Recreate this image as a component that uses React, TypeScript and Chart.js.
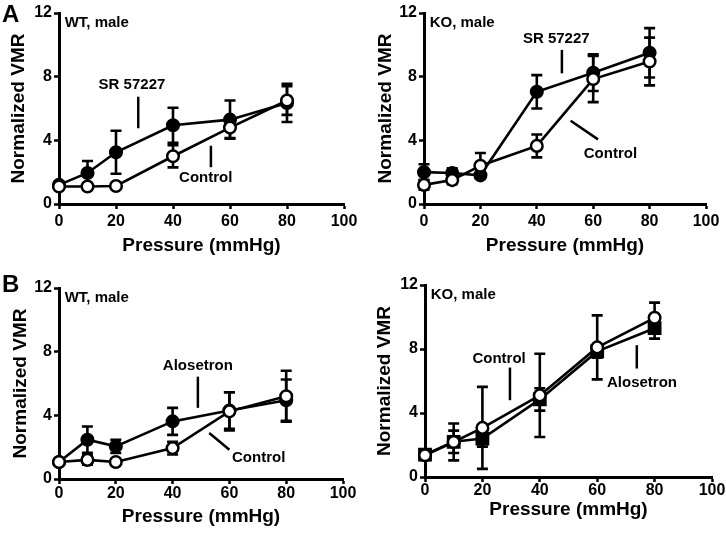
import React, { useEffect, useRef } from "react";
import { Chart, registerables } from "chart.js";
Chart.register(...registerables);

// ---------------- data ----------------
const pressure = [0, 10, 20, 40, 60, 80];

// Panel A, WT male
const wtSrMean = [1.2, 1.95, 3.25, 4.95, 5.3, 6.35];
const wtSrSem = [0.2, 0.75, 1.35, 1.1, 1.2, 1.2];
const wtSrCtlMean = [1.1, 1.1, 1.13, 3.0, 4.8, 6.5];
const wtSrCtlSem = [0.15, 0.15, 0.15, 0.7, 0.65, 0.9];
// Panel A, KO male
const koSrMean = [2.0, 1.95, 1.8, 7.05, 8.25, 9.5];
const koSrSem = [0.5, 0.3, 0.2, 1.05, 1.15, 1.55];
const koSrCtlMean = [1.2, 1.5, 2.4, 3.65, 7.85, 8.95];
const koSrCtlSem = [0.3, 0.25, 0.8, 0.72, 1.45, 1.5];
// Panel B, WT male
const wtAloMean = [1.07, 2.47, 2.05, 3.62, 4.3, 4.95];
const wtAloSem = [0.1, 0.83, 0.42, 0.85, 1.15, 1.3];
const wtAloCtlMean = [1.07, 1.2, 1.07, 1.94, 4.25, 5.2];
const wtAloCtlSem = [0.1, 0.3, 0.1, 0.4, 1.2, 1.6];
// Panel B, KO male
const koAloMean = [1.4, 2.2, 2.4, 4.85, 7.85, 9.3];
const koAloSem = [0.3, 0.7, 0.5, 0.7, 0.4, 0.65];
const koAloCtlMean = [1.36, 2.19, 3.07, 5.1, 8.1, 9.95];
const koAloCtlSem = [0.3, 1.15, 2.56, 2.6, 2.0, 0.95];

const xMin = 0;
const xMax = 100;
const xStep = 20;
const yMin = 0;
const yMax = 12;
const yStep = 4;

const xTitle = "Pressure (mmHg)";
const yTitle = "Normalized VMR";

// ---------------- styling / layout ----------------
const FONT = '"Liberation Sans", Arial, Helvetica, sans-serif';

type Series = { label: string; mean: number[]; sem: number[]; filled: boolean; shape?: string; radius?: number };
type Note = { text: string; x: number; y: number };
type Pointer = { x1: number; y1: number; x2: number; y2: number };
type PanelCfg = {
  key: string;
  left: number; top: number; width: number; height: number;
  padTop: number; padRight: number;
  yWidth: number; xHeight: number;
  yTitlePad: number; xTitlePad: number; xTickPad: number;
  tag: string;
  letter?: string; letterY?: number;
  series: Series[];
  notes: Note[];
  pointers: Pointer[];
};

const panels: PanelCfg[] = [
  {
    key: "A-WT", left: 0, top: 0, width: 363, height: 262,
    padTop: 13, padRight: 19, yWidth: 59, xHeight: 58, yTitlePad: 7, xTitlePad: 4.6, xTickPad: 3,
    tag: "WT, male", letter: "A", letterY: 22,
    series: [
      { label: "Control", mean: wtSrCtlMean, sem: wtSrCtlSem, filled: false },
      { label: "SR 57227", mean: wtSrMean, sem: wtSrSem, filled: true },
    ],
    notes: [{ text: "SR 57227", x: 25.6, y: 7.48 }, { text: "Control", x: 51.5, y: 1.65 }],
    pointers: [{ x1: 27.8, y1: 6.74, x2: 27.8, y2: 4.76 }, { x1: 53.3, y1: 3.66, x2: 53.3, y2: 2.31 }],
  },
  {
    key: "A-KO", left: 363, top: 0, width: 363, height: 262,
    padTop: 13, padRight: 20, yWidth: 61, xHeight: 58, yTitlePad: 11.5, xTitlePad: 4.6, xTickPad: 3,
    tag: "KO, male",
    series: [
      { label: "Control", mean: koSrCtlMean, sem: koSrCtlSem, filled: false },
      { label: "SR 57227", mean: koSrMean, sem: koSrSem, filled: true },
    ],
    notes: [{ text: "SR 57227", x: 46.9, y: 10.35 }, { text: "Control", x: 66.1, y: 3.12 }],
    pointers: [{ x1: 48.9, y1: 9.68, x2: 48.9, y2: 8.21 }, { x1: 52.0, y1: 5.23, x2: 61.7, y2: 4.06 }],
  },
  {
    key: "B-WT", left: 0, top: 262, width: 363, height: 271,
    padTop: 26, padRight: 20, yWidth: 59, xHeight: 54, yTitlePad: 9.5, xTitlePad: 5, xTickPad: 0,
    tag: "WT, male", letter: "B", letterY: 30,
    series: [
      { label: "Control", mean: wtAloCtlMean, sem: wtAloCtlSem, filled: false },
      { label: "Alosetron", mean: wtAloMean, sem: wtAloSem, filled: true },
    ],
    notes: [{ text: "Alosetron", x: 48.9, y: 7.08 }, { text: "Control", x: 70.3, y: 1.32 }],
    pointers: [{ x1: 48.9, y1: 6.43, x2: 48.9, y2: 4.47 }, { x1: 52.9, y1: 2.89, x2: 60.0, y2: 1.84 }],
  },
  {
    key: "B-KO", left: 363, top: 262, width: 363, height: 271,
    padTop: 23, padRight: 14, yWidth: 62, xHeight: 56, yTitlePad: 10.5, xTitlePad: 11.5, xTickPad: -1,
    tag: "KO, male",
    series: [
      { label: "Control", mean: koAloCtlMean, sem: koAloCtlSem, filled: false },
      { label: "Alosetron", mean: koAloMean, sem: koAloSem, filled: true, shape: "rect", radius: 8 },
    ],
    notes: [{ text: "Control", x: 25.8, y: 7.36 }, { text: "Alosetron", x: 75.6, y: 5.88 }],
    pointers: [{ x1: 29.6, y1: 6.84, x2: 29.6, y2: 4.8 }, { x1: 73.8, y1: 8.24, x2: 73.8, y2: 6.78 }],
  },
];

// ---------------- plugins ----------------
const errorBarPlugin = {
  id: "errorBars",
  beforeDatasetsDraw(chart: any) {
    const { ctx, scales } = chart;
    const xs = scales.x;
    const ys = scales.y;
    ctx.save();
    ctx.strokeStyle = "#000";
    ctx.lineWidth = 2.6;
    ctx.lineCap = "butt";
    chart.data.datasets.forEach((ds: any) => {
      const sem: number[] = ds.sem || [];
      ds.data.forEach((pt: any, i: number) => {
        const e = sem[i];
        if (!e) return;
        const px = xs.getPixelForValue(pt.x);
        const top = ys.getPixelForValue(pt.y + e);
        const bot = ys.getPixelForValue(pt.y - e);
        const cap = 5.5;
        ctx.beginPath();
        ctx.moveTo(px, top);
        ctx.lineTo(px, bot);
        ctx.moveTo(px - cap, top);
        ctx.lineTo(px + cap, top);
        ctx.moveTo(px - cap, bot);
        ctx.lineTo(px + cap, bot);
        ctx.stroke();
      });
    });
    ctx.restore();
  },
};

const notesPlugin = {
  id: "notes",
  afterDatasetsDraw(chart: any, _args: any, opts: any) {
    const { ctx, scales } = chart;
    const xs = scales.x;
    const ys = scales.y;
    const cfg: PanelCfg = opts.cfg;
    if (!cfg) return;
    ctx.save();
    ctx.fillStyle = "#000";
    ctx.strokeStyle = "#000";
    ctx.lineWidth = 2.5;
    ctx.font = `bold 15px ${FONT}`;
    ctx.textAlign = "center";
    ctx.textBaseline = "middle";
    cfg.notes.forEach((n) => {
      ctx.fillText(n.text, xs.getPixelForValue(n.x), ys.getPixelForValue(n.y));
    });
    cfg.pointers.forEach((p) => {
      ctx.beginPath();
      ctx.moveTo(xs.getPixelForValue(p.x1), ys.getPixelForValue(p.y1));
      ctx.lineTo(xs.getPixelForValue(p.x2), ys.getPixelForValue(p.y2));
      ctx.stroke();
    });
    // group tag
    ctx.textAlign = "left";
    ctx.font = `bold 15px ${FONT}`;
    ctx.fillText(cfg.tag, xs.getPixelForValue(2), ys.getPixelForValue(11.4));
    // panel letter
    if (cfg.letter) {
      ctx.font = `bold 24px ${FONT}`;
      ctx.textBaseline = "alphabetic";
      ctx.fillText(cfg.letter, 2, cfg.letterY || 22);
    }
    ctx.restore();
  },
};

// ---------------- component ----------------
function PanelChart({ cfg }: { cfg: PanelCfg }) {
  const ref = useRef<HTMLCanvasElement | null>(null);
  useEffect(() => {
    if (!ref.current) return;
    const datasets = cfg.series.map((s) => ({
      label: s.label,
      data: pressure.map((x, i) => ({ x, y: s.mean[i] })),
      sem: s.sem,
      borderColor: "#000",
      borderWidth: 2.6,
      pointStyle: s.shape || "circle",
      pointRadius: s.radius || 5.8,
      pointBorderWidth: 2.5,
      pointBorderColor: "#000",
      pointBackgroundColor: s.filled ? "#000" : "#fff",
      tension: 0,
      clip: false as any,
      fill: false,
    }));
    const tickFont = { family: FONT, size: 16, weight: "bold" as const };
    const titleFont = { family: FONT, size: 19, weight: "bold" as const };
    const chart = new Chart(ref.current, {
      type: "line",
      data: { datasets: datasets as any },
      options: {
        responsive: false,
        animation: false,
        devicePixelRatio: 1,
        layout: { padding: { top: cfg.padTop, right: cfg.padRight, left: 0, bottom: 0 } },
        plugins: {
          legend: { display: false },
          tooltip: { enabled: false },
          notes: { cfg },
        } as any,
        scales: {
          x: {
            type: "linear",
            min: xMin,
            max: xMax,
            ticks: { stepSize: xStep, font: tickFont, color: "#000", padding: cfg.xTickPad, maxRotation: 0 },
            grid: { drawOnChartArea: false, drawTicks: true, tickLength: 5, tickWidth: 2.5, tickColor: "#000" },
            border: { display: true, color: "#000", width: 3 },
            title: { display: true, text: xTitle, font: titleFont, color: "#000", padding: { top: 0, bottom: cfg.xTitlePad } },
            afterFit: (s: any) => { s.height = cfg.xHeight; },
          },
          y: {
            type: "linear",
            min: yMin,
            max: yMax,
            ticks: { stepSize: yStep, font: tickFont, color: "#000", padding: 2 },
            grid: { drawOnChartArea: false, drawTicks: true, tickLength: 5, tickWidth: 2.5, tickColor: "#000" },
            border: { display: true, color: "#000", width: 3 },
            title: { display: true, text: yTitle, font: titleFont, color: "#000", padding: { top: cfg.yTitlePad, bottom: 0 } },
            afterFit: (s: any) => { s.width = cfg.yWidth; },
          },
        },
      },
      plugins: [errorBarPlugin, notesPlugin],
    });
    return () => chart.destroy();
  }, [cfg]);
  return (
    <canvas
      ref={ref}
      width={cfg.width}
      height={cfg.height}
      style={{ position: "absolute", left: cfg.left, top: cfg.top, width: cfg.width, height: cfg.height }}
    />
  );
}

export default function App() {
  return (
    <div style={{ position: "absolute", left: 0, top: 0, width: 726, height: 533, background: "#fff", overflow: "hidden" }}>
      {panels.map((p) => (
        <PanelChart key={p.key} cfg={p} />
      ))}
    </div>
  );
}
